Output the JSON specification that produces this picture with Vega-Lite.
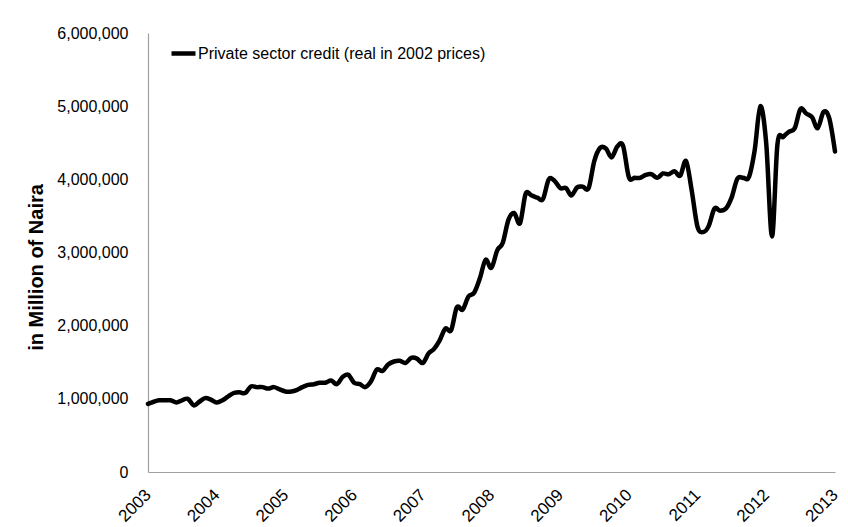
{
  "$schema": "https://vega.github.io/schema/vega-lite/v6.json",
  "autosize": "none",
  "width": 687,
  "height": 439,
  "padding": {"left": 148, "top": 33, "right": 13, "bottom": 55},
  "background": "white",
  "config": {
    "view": {"stroke": null},
    "font": "Liberation Sans",
    "axis": {"grid": false, "ticks": false, "domainColor": "#a0a0a0", "domainWidth": 1.2, "labelColor": "#000000", "labelFontSize": 16, "labelFont": "Liberation Sans"}
  },
  "data": {
    "values": [
      {"date": "2003-01-01", "credit": 930000}, {"date": "2003-02-01", "credit": 960000}, {"date": "2003-03-01", "credit": 980000}, {"date": "2003-04-01", "credit": 980000}, {"date": "2003-05-01", "credit": 980000}, {"date": "2003-06-01", "credit": 950000}, {"date": "2003-07-01", "credit": 980000}, {"date": "2003-08-01", "credit": 1000000}, {"date": "2003-09-01", "credit": 910000}, {"date": "2003-10-01", "credit": 960000}, {"date": "2003-11-01", "credit": 1010000}, {"date": "2003-12-01", "credit": 990000},
      {"date": "2004-01-01", "credit": 950000}, {"date": "2004-02-01", "credit": 980000}, {"date": "2004-03-01", "credit": 1030000}, {"date": "2004-04-01", "credit": 1080000}, {"date": "2004-05-01", "credit": 1090000}, {"date": "2004-06-01", "credit": 1080000}, {"date": "2004-07-01", "credit": 1170000}, {"date": "2004-08-01", "credit": 1160000}, {"date": "2004-09-01", "credit": 1160000}, {"date": "2004-10-01", "credit": 1140000}, {"date": "2004-11-01", "credit": 1160000}, {"date": "2004-12-01", "credit": 1130000},
      {"date": "2005-01-01", "credit": 1100000}, {"date": "2005-02-01", "credit": 1100000}, {"date": "2005-03-01", "credit": 1120000}, {"date": "2005-04-01", "credit": 1160000}, {"date": "2005-05-01", "credit": 1190000}, {"date": "2005-06-01", "credit": 1200000}, {"date": "2005-07-01", "credit": 1220000}, {"date": "2005-08-01", "credit": 1220000}, {"date": "2005-09-01", "credit": 1250000}, {"date": "2005-10-01", "credit": 1200000}, {"date": "2005-11-01", "credit": 1300000}, {"date": "2005-12-01", "credit": 1330000},
      {"date": "2006-01-01", "credit": 1220000}, {"date": "2006-02-01", "credit": 1200000}, {"date": "2006-03-01", "credit": 1160000}, {"date": "2006-04-01", "credit": 1240000}, {"date": "2006-05-01", "credit": 1400000}, {"date": "2006-06-01", "credit": 1380000}, {"date": "2006-07-01", "credit": 1470000}, {"date": "2006-08-01", "credit": 1510000}, {"date": "2006-09-01", "credit": 1520000}, {"date": "2006-10-01", "credit": 1490000}, {"date": "2006-11-01", "credit": 1560000}, {"date": "2006-12-01", "credit": 1550000},
      {"date": "2007-01-01", "credit": 1490000}, {"date": "2007-02-01", "credit": 1620000}, {"date": "2007-03-01", "credit": 1680000}, {"date": "2007-04-01", "credit": 1800000}, {"date": "2007-05-01", "credit": 1960000}, {"date": "2007-06-01", "credit": 1940000}, {"date": "2007-07-01", "credit": 2250000}, {"date": "2007-08-01", "credit": 2220000}, {"date": "2007-09-01", "credit": 2400000}, {"date": "2007-10-01", "credit": 2450000}, {"date": "2007-11-01", "credit": 2650000}, {"date": "2007-12-01", "credit": 2900000},
      {"date": "2008-01-01", "credit": 2790000}, {"date": "2008-02-01", "credit": 3030000}, {"date": "2008-03-01", "credit": 3130000}, {"date": "2008-04-01", "credit": 3450000}, {"date": "2008-05-01", "credit": 3540000}, {"date": "2008-06-01", "credit": 3400000}, {"date": "2008-07-01", "credit": 3800000}, {"date": "2008-08-01", "credit": 3780000}, {"date": "2008-09-01", "credit": 3750000}, {"date": "2008-10-01", "credit": 3730000}, {"date": "2008-11-01", "credit": 4000000}, {"date": "2008-12-01", "credit": 3980000},
      {"date": "2009-01-01", "credit": 3880000}, {"date": "2009-02-01", "credit": 3880000}, {"date": "2009-03-01", "credit": 3780000}, {"date": "2009-04-01", "credit": 3890000}, {"date": "2009-05-01", "credit": 3900000}, {"date": "2009-06-01", "credit": 3880000}, {"date": "2009-07-01", "credit": 4250000}, {"date": "2009-08-01", "credit": 4430000}, {"date": "2009-09-01", "credit": 4420000}, {"date": "2009-10-01", "credit": 4300000}, {"date": "2009-11-01", "credit": 4450000}, {"date": "2009-12-01", "credit": 4460000},
      {"date": "2010-01-01", "credit": 4030000}, {"date": "2010-02-01", "credit": 4020000}, {"date": "2010-03-01", "credit": 4020000}, {"date": "2010-04-01", "credit": 4060000}, {"date": "2010-05-01", "credit": 4070000}, {"date": "2010-06-01", "credit": 4020000}, {"date": "2010-07-01", "credit": 4080000}, {"date": "2010-08-01", "credit": 4070000}, {"date": "2010-09-01", "credit": 4110000}, {"date": "2010-10-01", "credit": 4050000}, {"date": "2010-11-01", "credit": 4250000}, {"date": "2010-12-01", "credit": 3850000},
      {"date": "2011-01-01", "credit": 3350000}, {"date": "2011-02-01", "credit": 3280000}, {"date": "2011-03-01", "credit": 3360000}, {"date": "2011-04-01", "credit": 3600000}, {"date": "2011-05-01", "credit": 3570000}, {"date": "2011-06-01", "credit": 3600000}, {"date": "2011-07-01", "credit": 3750000}, {"date": "2011-08-01", "credit": 4010000}, {"date": "2011-09-01", "credit": 4020000}, {"date": "2011-10-01", "credit": 4030000}, {"date": "2011-11-01", "credit": 4400000}, {"date": "2011-12-01", "credit": 5000000},
      {"date": "2012-01-01", "credit": 4500000}, {"date": "2012-02-01", "credit": 3220000}, {"date": "2012-03-01", "credit": 4480000}, {"date": "2012-04-01", "credit": 4580000}, {"date": "2012-05-01", "credit": 4650000}, {"date": "2012-06-01", "credit": 4700000}, {"date": "2012-07-01", "credit": 4960000}, {"date": "2012-08-01", "credit": 4900000}, {"date": "2012-09-01", "credit": 4850000}, {"date": "2012-10-01", "credit": 4700000}, {"date": "2012-11-01", "credit": 4920000}, {"date": "2012-12-01", "credit": 4840000},
      {"date": "2013-01-01", "credit": 4380000}
    ]
  },
  "mark": {"type": "line", "interpolate": "cardinal", "tension": 0, "strokeWidth": 4.5, "strokeJoin": "round", "strokeCap": "round"},
  "encoding": {
    "x": {
      "field": "date",
      "type": "temporal",
      "scale": {"type": "utc", "domain": [{"year": 2003, "month": 1, "date": 1, "utc": true}, {"year": 2013, "month": 1, "date": 1, "utc": true}]},
      "axis": {"title": null, "format": "%Y", "formatType": "utc", "tickCount": {"interval": "year", "step": 1}, "labelAngle": -45, "labelAlign": "right", "labelBaseline": "middle", "labelPadding": 20, "labelFontSize": 17, "labelOverlap": false, "labelBound": false, "labelFlush": false}
    },
    "y": {
      "field": "credit",
      "type": "quantitative",
      "scale": {"domain": [0, 6000000], "nice": false},
      "axis": {"title": "in Million of Naira", "titleFontSize": 20, "titleFontWeight": "bold", "titleColor": "#000000", "titleFont": "Liberation Sans", "titlePadding": 10, "titleY": 234, "values": [0, 1000000, 2000000, 3000000, 4000000, 5000000, 6000000], "format": ",d", "labelPadding": 20}
    },
    "color": {
      "datum": "Private sector credit (real in 2002 prices)",
      "type": "nominal",
      "scale": {"range": ["#000000"]},
      "legend": {"title": null, "orient": "none", "legendX": 21, "legendY": 6, "symbolType": "stroke", "symbolStrokeWidth": 4.5, "symbolSize": 576, "labelFontSize": 16, "labelLimit": 500, "labelColor": "#000000", "labelFont": "Liberation Sans", "labelOffset": 0, "padding": 0}
    }
  }
}
